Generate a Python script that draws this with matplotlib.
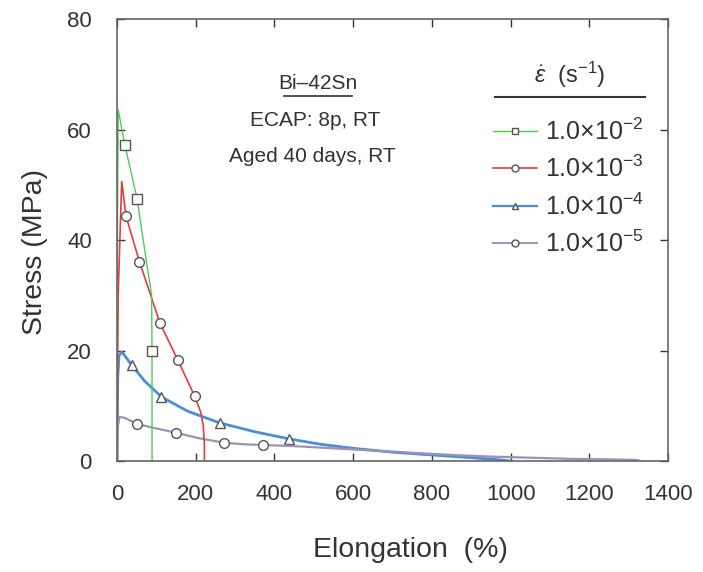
import matplotlib
matplotlib.use("Agg")
import matplotlib.pyplot as plt
from matplotlib.lines import Line2D

plt.rcParams["font.family"] = ["Liberation Sans", "DejaVu Sans"]
plt.rcParams["mathtext.fontset"] = "custom"
plt.rcParams["mathtext.rm"] = "Liberation Sans"
plt.rcParams["mathtext.it"] = "Liberation Sans:italic"

# strain rate 1.0e-2
x_e2 = [0, 1, 3, 20, 51, 75, 88, 89, 89, 89]
y_e2 = [0, 40, 63.6, 57.2, 47.5, 36, 30, 20, 10, 0]
mk_e2 = [3, 4, 7]

# strain rate 1.0e-3
x_e3 = [0, 3, 12, 23, 57, 109, 155, 197, 212, 219, 222, 222]
y_e3 = [0, 30, 50.6, 44.3, 36.1, 25, 18.2, 11.8, 9, 6.5, 3, 0]
mk_e3 = [3, 4, 5, 6, 7]

# strain rate 1.0e-4
x_e4 = [0, 2, 5, 12, 37, 70, 113, 180, 261, 350, 438, 520, 600, 700, 800, 900, 960, 1000]
y_e4 = [0, 15, 19, 19.8, 17.4, 14.5, 11.6, 9, 6.9, 5.3, 4, 3, 2.3, 1.6, 1.1, 0.6, 0.3, 0]
mk_e4 = [4, 6, 8, 10]

# strain rate 1.0e-5
x_e5 = [0, 2, 6, 20, 51, 100, 151, 210, 273, 330, 372, 450, 550, 650, 750, 850,
        950, 1050, 1150, 1250, 1320, 1330]
y_e5 = [0, 6, 8, 7.8, 6.7, 5.9, 5.1, 4.1, 3.3, 3.0, 2.9, 2.7, 2.3, 1.9, 1.5, 1.1,
        0.8, 0.6, 0.4, 0.3, 0.2, 0]
mk_e5 = [4, 6, 8, 10]

labels = [r"1.0×10$^{-2}$", r"1.0×10$^{-3}$", r"1.0×10$^{-4}$", r"1.0×10$^{-5}$"]

fig = plt.figure(figsize=(7.03, 5.72), dpi=100)
ax = fig.add_axes([0.1664, 0.194, 0.784, 0.7728])

edge = "#555555"
c2, c3, c4, c5 = "#4fcc4f", "#e63c3c", "#4a8fd6", "#9a94b4"
series = [
    (x_e4, y_e4, mk_e4, c4, 2.0, "^"),
    (x_e5, y_e5, mk_e5, c5, 1.6, "o"),
    (x_e3, y_e3, mk_e3, c3, 1.2, "o"),
    (x_e2, y_e2, mk_e2, c2, 1.0, "s"),
]
for xs, ys, mk, col, lw, m in series:
    ax.plot(xs, ys, color=col, lw=lw, marker=m, markevery=mk, ms=7,
            mfc="white", mec=edge, mew=1.0)

ax.set_xlim(0, 1400)
ax.set_ylim(0, 80)
ax.set_xticks(range(0, 1401, 200))
ax.set_yticks(range(0, 81, 20))
ax.tick_params(direction="in", top=True, right=True, length=6, width=1,
               labelsize=16, colors="#333333")
ax.tick_params(axis="x", pad=16.5)
ax.tick_params(axis="y", pad=18)
for sp in ax.spines.values():
    sp.set_color("#666666")
    sp.set_linewidth(1.2)
ax.set_xlabel("Elongation  (%)", fontsize=20.5, labelpad=23, color="#333333")
ax.set_ylabel("Stress (MPa)", fontsize=20.5, labelpad=14, color="#333333")
# labels sit a bit off-centre in the original
ax.xaxis.label.set_x(0.532)
ax.yaxis.label.set_y(0.473)

# sample description
ax.text(0.365, 0.855, "Bi–42Sn", transform=ax.transAxes, ha="center", va="center",
        fontsize=15, color="#333333")
ax.plot([0.303, 0.426], [0.826, 0.826], transform=ax.transAxes, color="#333333", lw=1.2)
ax.text(0.36, 0.771, "ECAP: 8p, RT", transform=ax.transAxes, ha="center", va="center",
        fontsize=15, color="#333333")
ax.text(0.355, 0.688, "Aged 40 days, RT", transform=ax.transAxes, ha="center", va="center",
        fontsize=15, color="#333333")

# legend
handles = [
    Line2D([], [], color=c2, lw=1.0, marker="s", ms=5, mfc="white", mec=edge),
    Line2D([], [], color=c3, lw=1.2, marker="o", ms=5, mfc="white", mec=edge),
    Line2D([], [], color=c4, lw=1.6, marker="^", ms=5, mfc="white", mec=edge),
    Line2D([], [], color=c5, lw=1.4, marker="o", ms=5, mfc="white", mec=edge),
]
leg = ax.legend(handles, labels, loc="upper left", bbox_to_anchor=(0.682, 0.775),
                frameon=False, fontsize=18, handlelength=1.76, handletextpad=0.32,
                labelspacing=0.44, borderaxespad=0, borderpad=0)
for t in leg.get_texts():
    t.set_color("#333333")
ax.text(0.822, 0.873, r"$\dot{\varepsilon}$  (s$^{-1}$)", transform=ax.transAxes,
        ha="center", va="center", fontsize=17, color="#333333")
ax.plot([0.686, 0.958], [0.824, 0.824], transform=ax.transAxes, color="#333333",
        lw=1.5, clip_on=False)

fig.savefig("out.png", dpi=100)
